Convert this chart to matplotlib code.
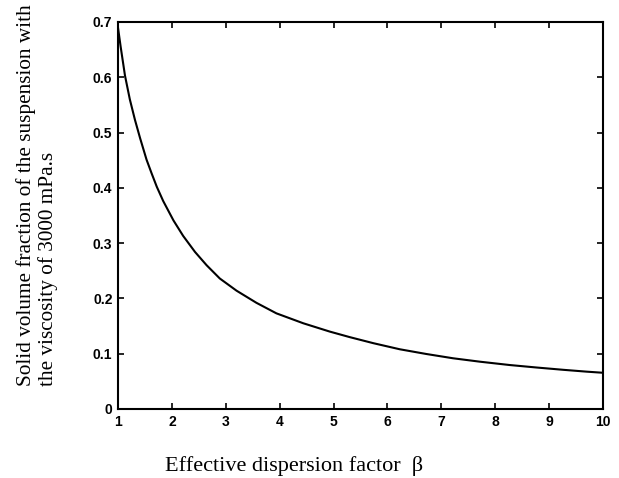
import matplotlib
matplotlib.use('Agg')
import matplotlib.pyplot as plt

# values
beta = [1.0, 1.05, 1.13, 1.22, 1.315, 1.41, 1.53, 1.625, 1.72, 1.84, 2.03,
        2.21, 2.43, 2.645, 2.89, 3.2, 3.57, 3.94, 4.44, 4.93, 5.3, 5.74,
        6.23, 6.72, 7.22, 7.72, 8.27, 8.77, 9.27, 9.7, 10.0]
phi = [0.69, 0.655, 0.603, 0.56, 0.523, 0.49, 0.451, 0.426, 0.402, 0.376,
       0.341, 0.313, 0.284, 0.26, 0.236, 0.214, 0.192, 0.173, 0.155, 0.140,
       0.130, 0.119, 0.108, 0.0995, 0.0917, 0.0855, 0.0795, 0.075, 0.0708,
       0.0675, 0.0655]

x_ticks = [1, 2, 3, 4, 5, 6, 7, 8, 9, 10]
y_ticks = [0, 0.1, 0.2, 0.3, 0.4, 0.5, 0.6, 0.7]
y_tick_labels = ['0', '0.1', '0.2', '0.3', '0.4', '0.5', '0.6', '0.7']

fig = plt.figure(figsize=(6.19, 4.78), dpi=100)
ax = fig.add_axes([0.1906, 0.1444, 0.7834, 0.8096])

ax.plot(beta, phi, color='black', linewidth=1.5)

ax.set_xlim(1, 10)
ax.set_ylim(0, 0.7)
ax.set_xticks(x_ticks)
ax.set_yticks(y_ticks)
ax.set_yticklabels(y_tick_labels)
ax.tick_params(direction='in', top=True, right=True, length=4, width=1.2,
               labelsize=10, pad=4)
for lab in ax.get_xticklabels() + ax.get_yticklabels():
    lab.set_family('Liberation Sans')
    lab.set_fontweight('bold')
for s in ax.spines.values():
    s.set_linewidth(1.5)

fig.text(165 / 619, 7 / 478, 'Effective dispersion factor  β',
         family='Liberation Serif', fontsize=16, ha='left', va='baseline')
fig.text(37 / 619, 92 / 478,
         'Solid volume fraction of the suspension with\nthe viscosity of 3000 mPa.s',
         family='Liberation Serif', fontsize=15.3, rotation=90,
         ha='center', va='bottom', multialignment='left', linespacing=1.1)

fig.savefig('out.png', dpi=100)
